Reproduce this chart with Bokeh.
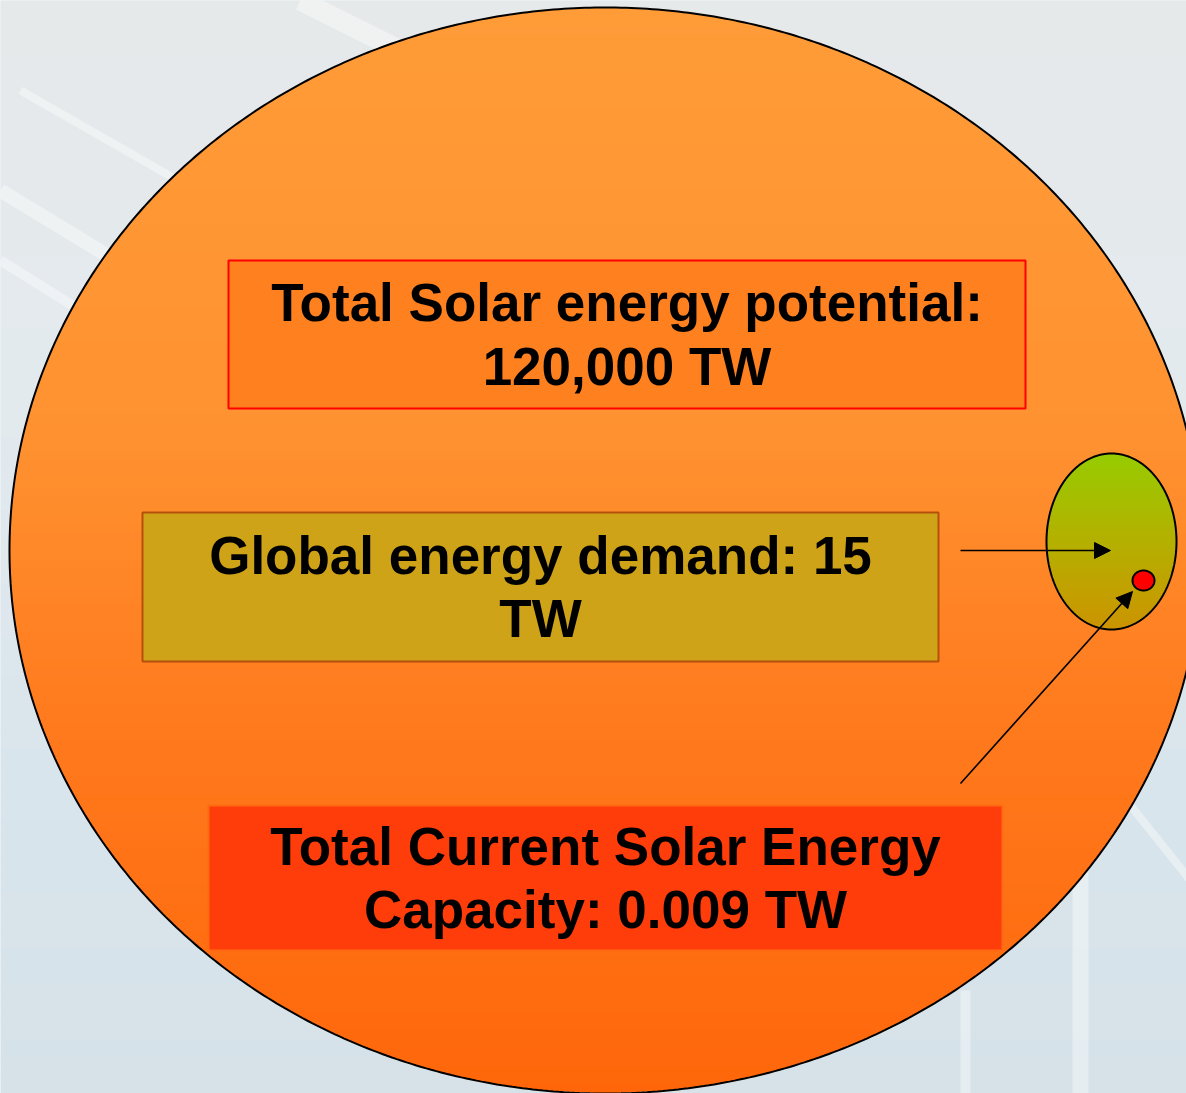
import numpy as np
from bokeh.plotting import figure
from bokeh.models import Range1d, Arrow, NormalHead
from bokeh.core.properties import value
from bokeh.embed import file_html
from bokeh.resources import INLINE

# ---------------- data ----------------
categories = ["Total Solar energy potential", "Global energy demand", "Total Current Solar Energy Capacity"]
values_tw = [120000, 15, 0.009]
value_labels = ["120,000 TW", "15 TW", "0.009 TW"]

box_lines = [
    [categories[0] + ":", value_labels[0]],
    [categories[1] + ": " + value_labels[1].split()[0], value_labels[1].split()[1]],
    ["Total Current Solar Energy", "Capacity: " + value_labels[2]],
]

# ---------------- layout (pixel space of the picture) ----------------
W, H = 1186, 1093
big = dict(cx=605, cy=550, rx=596, ry=543)
small = dict(cx=1111, cy=541, rx=65, ry=88)
dot = dict(cx=1143, cy=580, rx=11, ry=10)

box_left = [228, 142, 208]
box_right = [1025, 938, 1002]
box_top = [260, 512, 805]
box_bottom = [408, 661, 950]
box_fill = ["#FF801F", "#CFA317", "#FF3D0A"]
box_line = ["#FF0000", "#B5500C", "#FF6A12"]
baselines = [[322, 386], [575, 638], [866, 929]]
TEXT_SHIFT = -20

arrow_from = [(960, 550), (960, 783)]
arrow_to = [(1110, 550), (1132, 591)]

FONT = value("Liberation Sans")


def hex2rgb(h):
    h = h.lstrip("#")
    return np.array([int(h[i:i + 2], 16) for i in (0, 2, 4)], dtype=float)


def grad(stops, t):
    pos = [s[0] for s in stops]
    cols = [hex2rgb(s[1]) for s in stops]
    for i in range(len(pos) - 1):
        if pos[i] <= t <= pos[i + 1]:
            f = (t - pos[i]) / (pos[i + 1] - pos[i])
            c = cols[i] * (1 - f) + cols[i + 1] * f
            return "#%02X%02X%02X" % tuple(int(round(v)) for v in c)
    c = cols[-1] if t > pos[-1] else cols[0]
    return "#%02X%02X%02X" % tuple(int(v) for v in c)


def ellipse_bands(e, stops, n=120):
    xs_all, ys_all, cols = [], [], []
    edges = np.linspace(e["cy"] - e["ry"], e["cy"] + e["ry"], n + 1)
    for i in range(n):
        y0, y1 = edges[i], min(edges[i + 1] + 0.8, e["cy"] + e["ry"])
        yy = np.linspace(y0, y1, 4)
        half = e["rx"] * np.sqrt(np.clip(1 - ((yy - e["cy"]) / e["ry"]) ** 2, 0, 1))
        xs = list(e["cx"] - half) + list((e["cx"] + half)[::-1])
        ys = list(yy) + list(yy[::-1])
        xs_all.append(xs)
        ys_all.append(ys)
        cols.append(grad(stops, (0.5 * (edges[i] + edges[i + 1]) - (e["cy"] - e["ry"])) / (2 * e["ry"])))
    return xs_all, ys_all, cols


def ellipse_outline(e, n=720):
    t = np.linspace(0, 2 * np.pi, n + 1)
    return e["cx"] + e["rx"] * np.cos(t), e["cy"] + e["ry"] * np.sin(t)


p = figure(width=W, height=H, x_range=Range1d(0, W), y_range=Range1d(H, 0),
           output_backend="svg", toolbar_location=None, min_border=0)
p.axis.visible = False
p.grid.visible = False
p.outline_line_color = None
p.background_fill_color = "#DDE6EB"
p.border_fill_color = "#DDE6EB"

# background: soft vertical gradient + faint photo-like streaks
bg_stops = [(0.0, "#E6E9EA"), (0.35, "#E3EAEE"), (0.7, "#D9E5EC"), (1.0, "#D6E2E8")]
nb = 60
bys = np.linspace(0, H, nb + 1)
p.quad(left=[0] * nb, right=[W + 10] * nb, top=list(bys[:-1]), bottom=list(bys[1:] + 1),
       fill_color=[grad(bg_stops, bys[i] / H) for i in range(nb)], line_color=None)
streak_x = [[0, 230], [0, 160], [20, 300], [1080, 1080], [965, 965], [1110, 1190], [300, 420]]
streak_y = [[190, 330], [260, 360], [90, 250], [860, 1093], [990, 1093], [780, 880], [0, 60]]
streak_w = [14, 10, 8, 16, 10, 8, 20]
for sx, sy, sw in zip(streak_x, streak_y, streak_w):
    p.line(sx, sy, line_color="white", line_alpha=0.4, line_width=sw)

# big circle with gradient
bx, by, bc = ellipse_bands(big, [(0.0, "#FF9C38"), (0.4, "#FF9130"), (0.65, "#FF7B1E"), (1.0, "#FF660A")])
p.patches(bx, by, fill_color=bc, line_color=None)
ox, oy = ellipse_outline(big)
p.line(ox, oy, line_color="black", line_width=2)

# boxes
p.quad(left=box_left, right=box_right, top=box_top, bottom=box_bottom,
       fill_color=box_fill, line_color=box_line, line_width=2)

# texts
for lines, bl, l, r in zip(box_lines, baselines, box_left, box_right):
    cx = 0.5 * (l + r)
    p.text(x=[cx] * len(lines), y=[b + TEXT_SHIFT for b in bl], text=lines, text_font=FONT,
           text_font_style="bold", text_font_size="53px", text_align="center",
           text_baseline="alphabetic", text_color="black")

# small ellipse (demand) with gradient
sx_, sy_, sc_ = ellipse_bands(small, [(0.0, "#97CC00"), (0.5, "#B4B000"), (1.0, "#CC9400")], n=60)
p.patches(sx_, sy_, fill_color=sc_, line_color=None)
ox, oy = ellipse_outline(small)
p.line(ox, oy, line_color="black", line_width=2)

# red dot (current capacity)
ox, oy = ellipse_outline(dot, n=120)
p.patch(ox, oy, fill_color="#FF0000", line_color="black", line_width=2)

# arrows
for (x0, y0), (x1, y1) in zip(arrow_from, arrow_to):
    p.add_layout(Arrow(end=NormalHead(size=16, fill_color="black", line_color="black", line_width=1),
                       x_start=x0, y_start=y0, x_end=x1, y_end=y1, line_width=1.6, line_color="black"))

open("out.html", "w").write(file_html(p, INLINE))
